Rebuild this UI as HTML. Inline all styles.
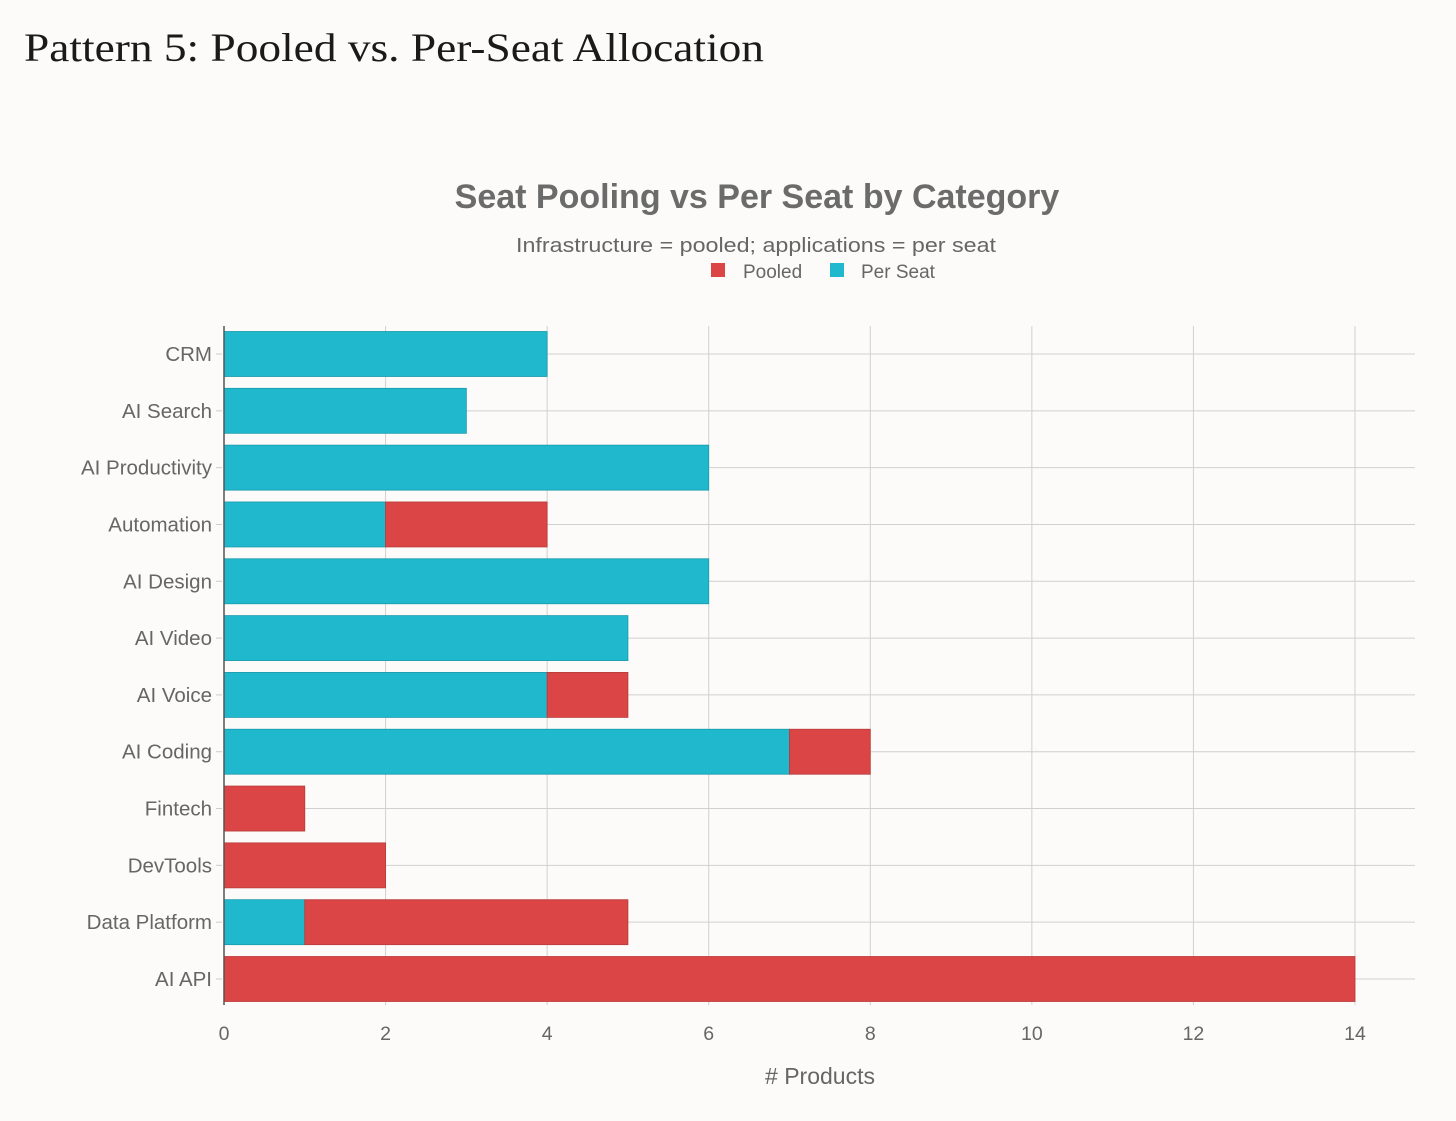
<!DOCTYPE html>
<html><head><meta charset="utf-8"><style>
body{margin:0;background:#fcfbf9;width:1456px;height:1121px;overflow:hidden}
svg{display:block}
</style></head><body>
<svg id="c" width="1456" height="1121" xmlns="http://www.w3.org/2000/svg">
<text x="24" y="61" font-family="Liberation Serif, serif" font-size="40" fill="#1a1a1a" textLength="740" lengthAdjust="spacingAndGlyphs">Pattern 5: Pooled vs. Per-Seat Allocation</text>
<text x="757" y="208" text-anchor="middle" font-family="Liberation Sans, sans-serif" font-size="34" font-weight="bold" fill="#6b6b6b">Seat Pooling vs Per Seat by Category</text>
<text x="516" y="252" font-family="Liberation Sans, sans-serif" font-size="20.5" fill="#666" textLength="480" lengthAdjust="spacingAndGlyphs">Infrastructure = pooled; applications = per seat</text>
<g>
<rect x="711" y="263" width="14" height="14" fill="#db4545"/>
<text x="743" y="278" font-family="Liberation Sans, sans-serif" font-size="19" fill="#666">Pooled</text>
<rect x="830" y="263" width="14" height="14" fill="#1fb8cd"/>
<text x="861" y="278" font-family="Liberation Sans, sans-serif" font-size="19" fill="#666">Per Seat</text>
</g>
<g id="grid"></g><g id="bars"></g><g id="axes"></g>
<text x="820" y="1084" text-anchor="middle" font-family="Liberation Sans, sans-serif" font-size="23" fill="#666"># Products</text>
</svg>
<script>
const categories=["CRM","AI Search","AI Productivity","Automation","AI Design","AI Video","AI Voice","AI Coding","Fintech","DevTools","Data Platform","AI API"];
const perSeat=[4,3,6,2,6,5,4,7,0,0,1,0];
const pooled=[0,0,0,2,0,0,1,1,1,2,4,14];
const xTicks=[0,2,4,6,8,10,12,14];
const NS="http://www.w3.org/2000/svg";
const x0=224,x1=1355,xMax=14,plotR=1415,plotT=326,plotB=1005;
const yFirst=354,yLast=979,barH=45;
const xs=v=>x0+(x1-x0)*v/xMax;
const ys=i=>yFirst+(yLast-yFirst)*i/(categories.length-1);
function mk(tag,attrs,parent,text){const e=document.createElementNS(NS,tag);for(const k in attrs)e.setAttribute(k,attrs[k]);if(text!==undefined)e.textContent=text;document.getElementById(parent).appendChild(e);return e;}
xTicks.forEach(t=>{
 const l=mk('line',{x1:xs(t),x2:xs(t),y1:plotT,y2:plotB,stroke:'#d0d0d0','stroke-width':1},'grid');
 
 
 const tx=mk('text',{x:xs(t),y:1040,'text-anchor':'middle','font-family':'Liberation Sans, sans-serif','font-size':19.5,fill:'#666'},'axes',String(t));
 
 
});
categories.forEach((c,i)=>{
 const y=ys(i);
 const g=mk('line',{x1:x0,x2:plotR,y1:y,y2:y,stroke:'#d0d0d0','stroke-width':1},'grid');
 
 
 const tk=mk('line',{x1:x0-8,x2:x0-2,y1:y,y2:y,stroke:'#ccc'},'axes');
 
 
 const t=mk('text',{x:212,y:y+7,'text-anchor':'end','font-family':'Liberation Sans, sans-serif','font-size':20.5,fill:'#666'},'axes',c);
 
 
 if(perSeat[i]>0){
  const r=mk('rect',{x:xs(0),y:y-barH/2,width:xs(perSeat[i])-xs(0),height:barH,fill:'#1fb8cd',stroke:'#1a9aac','stroke-width':0.8},'bars');
  
  
 }
 if(pooled[i]>0){
  const r=mk('rect',{x:xs(perSeat[i]),y:y-barH/2,width:xs(perSeat[i]+pooled[i])-xs(perSeat[i]),height:barH,fill:'#db4545',stroke:'#b83a3a','stroke-width':0.8},'bars');
  
  
 }
});
const ax=mk('line',{x1:x0,x2:x0,y1:plotT,y2:plotB,stroke:'#555','stroke-width':1.5},'axes');


</script>
</body></html>
